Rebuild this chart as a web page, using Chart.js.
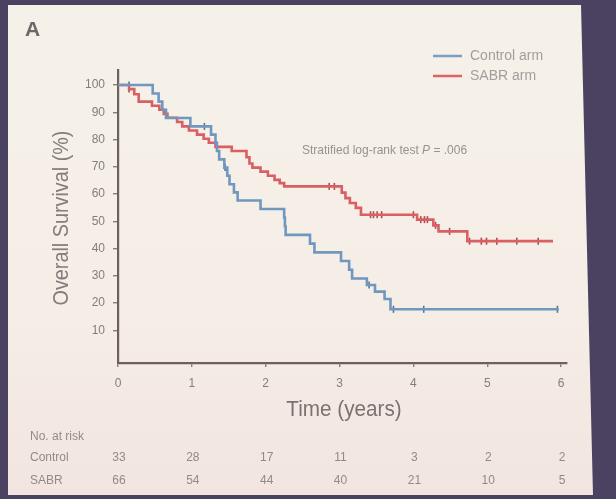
<!DOCTYPE html>
<html>
<head>
<meta charset="utf-8">
<title>Overall survival</title>
<script src="https://cdn.jsdelivr.net/npm/chart.js@4/dist/chart.umd.min.js"></script>
<style>
    html, body { margin: 0; padding: 0; background: #4b4261; }
    #wrap { width: 616px; height: 499px; position: relative; }
    #kmChart { filter: blur(0.35px); }
</style>
</head>
<body>
<div id="wrap"><canvas id="kmChart" width="616" height="499"></canvas></div>
<script>
// ── Data ──────────────────────────────────────────────────────
const years = [0, 1, 2, 3, 4, 5, 6];
const yTicks = [10, 20, 30, 40, 50, 60, 70, 80, 90, 100];

const controlTimes = [0, 0.47, 0.55, 0.60, 0.65, 0.98, 1.26, 1.32, 1.34, 1.37, 1.44, 1.48, 1.51, 1.57, 1.62,
    1.93, 2.25, 2.26, 2.27, 2.60, 2.66, 3.02, 3.13, 3.17, 3.37, 3.48, 3.61, 3.69, 5.97];
const controlSurv = [100, 96.9, 93.9, 90.9, 87.9, 84.8, 81.8, 78.8, 75.8, 72.7, 69.7, 66.7, 63.6, 60.6, 57.6,
    54.5, 51.4, 48.2, 45.0, 41.8, 38.6, 35.4, 32.2, 29.0, 26.6, 24.2, 21.5, 17.7, 17.7];
const controlCensor = [0.15, 1.17, 1.45, 3.40, 3.73, 4.14, 5.95];

const sabrTimes = [0, 0.15, 0.22, 0.28, 0.46, 0.56, 0.62, 0.67, 0.80, 0.87, 0.96, 1.07, 1.16, 1.23, 1.32,
    1.54, 1.74, 1.78, 1.82, 1.93, 2.03, 2.12, 2.19, 2.25, 3.03, 3.08, 3.14, 3.22, 3.29, 4.05, 4.27, 4.34, 4.73, 5.89];
const sabrSurv = [100, 98.5, 96.6, 93.9, 92.4, 90.9, 89.4, 88.0, 86.4, 84.8, 83.3, 81.8, 80.3, 78.8, 77.3,
    75.8, 73.5, 71.2, 69.7, 68.2, 66.7, 65.2, 64.0, 62.8, 60.5, 58.5, 56.7, 54.9, 52.4, 50.6, 48.5, 46.3, 42.7, 42.7];
const sabrCensor = [0.15, 2.86, 2.93, 3.42, 3.46, 3.51, 3.57, 4.00, 4.10, 4.15, 4.19, 4.30, 4.49,
    4.76, 4.92, 4.99, 5.13, 5.40, 5.69];

const atRiskControl = [33, 28, 17, 11, 3, 2, 2];
const atRiskSabr = [66, 54, 44, 40, 21, 10, 5];

// ── Helpers ───────────────────────────────────────────────────
const FONT = "'Liberation Sans', Arial, sans-serif";

// survival value of a step curve at time t
function survAt(times, surv, t) {
    let s = surv[0];
    for (let i = 0; i < times.length; i++) if (times[i] <= t) s = surv[i];
    return s;
}
const toPts = (times, surv) => times.map((t, i) => ({ x: t, y: surv[i] }));
const censorPts = (times, surv, marks) => marks.map(t => ({ x: t, y: survAt(times, surv, t) }));

// condensed text: draw a larger font squeezed horizontally
function narrowText(c, text, x, y, size, squeeze, angle) {
    c.save();
    c.translate(x, y);
    if (angle) c.rotate(angle);
    c.scale(squeeze, 1);
    c.font = size + 'px ' + FONT;
    c.textAlign = 'center';
    c.textBaseline = 'middle';
    c.fillText(text, 0, 0);
    c.restore();
}

// ── Slide backdrop (photo of a projected slide) ───────────────
const backdrop = {
    id: 'backdrop',
    beforeDraw(chart) {
        const c = chart.ctx;
        c.save();
        c.fillStyle = '#4b4261';
        c.fillRect(0, 0, chart.width, chart.height);
        const g = c.createLinearGradient(0, 0, 0, chart.height);
        g.addColorStop(0, '#f5f1e9');
        g.addColorStop(0.6, '#f5eee7');
        g.addColorStop(1, '#f2e5df');
        c.fillStyle = g;
        c.beginPath();
        c.moveTo(8, 5);
        c.lineTo(581, 5);
        c.lineTo(593, 495);
        c.lineTo(8, 495);
        c.closePath();
        c.fill();
        c.restore();
    }
};

// ── Texts around the plot ─────────────────────────────────────
const annotations = {
    id: 'annotations',
    afterDraw(chart) {
        const c = chart.ctx;
        const xs = chart.scales.x;
        c.save();

        // panel letter
        c.fillStyle = '#6f6767';
        c.font = 'bold 21px ' + FONT;
        c.textBaseline = 'middle';
        c.fillText('A', 25, 30);

        // legend
        c.lineWidth = 2.5;
        c.strokeStyle = '#7a9fc4';
        c.beginPath(); c.moveTo(433, 56); c.lineTo(462, 56); c.stroke();
        c.strokeStyle = '#dc6466';
        c.beginPath(); c.moveTo(433, 76); c.lineTo(462, 76); c.stroke();
        c.fillStyle = '#a59d9d';
        c.font = '14px ' + FONT;
        c.fillText('Control arm', 470, 56);
        c.fillText('SABR arm', 470, 76);

        // test statistic
        c.fillStyle = '#9a9191';
        c.font = '12px ' + FONT;
        let tx = 302;
        const s1 = 'Stratified log-rank test ';
        c.fillText(s1, tx, 151);
        tx += c.measureText(s1).width;
        c.font = 'italic 12px ' + FONT;
        c.fillText('P', tx, 151);
        tx += c.measureText('P').width;
        c.font = '12px ' + FONT;
        c.fillText(' = .006', tx, 151);

        // axis titles
        c.fillStyle = '#7b7373';
        narrowText(c, 'Time (years)', 344, 410, 22, 0.94, 0);
        c.fillStyle = '#857c7c';
        narrowText(c, 'Overall Survival (%)', 62, 218, 22, 0.9, -Math.PI / 2);

        // number at risk table
        c.fillStyle = '#928a8a';
        c.font = '12px ' + FONT;
        c.textAlign = 'left';
        c.fillText('No. at risk', 30, 437);
        c.fillText('Control', 30, 458);
        c.fillText('SABR', 30, 481);
        c.textAlign = 'center';
        years.forEach((yr, i) => {
            const px = xs.getPixelForValue(yr) + 1;
            c.fillText(String(atRiskControl[i]), px, 458);
            c.fillText(String(atRiskSabr[i]), px, 481);
        });
        c.restore();
    }
};

// ── Chart ─────────────────────────────────────────────────────
new Chart(document.getElementById('kmChart').getContext('2d'), {
    type: 'line',
    data: {
        datasets: [
            {
                label: 'Control arm',
                data: toPts(controlTimes, controlSurv),
                borderColor: '#7097bf',
                borderWidth: 2.6,
                stepped: 'before',
                pointRadius: 0,
                fill: false,
            },
            {
                label: 'SABR arm',
                data: toPts(sabrTimes, sabrSurv),
                borderColor: '#da5f62',
                borderWidth: 2.6,
                stepped: 'before',
                pointRadius: 0,
                fill: false,
            },
            {
                label: 'Control censored',
                data: censorPts(controlTimes, controlSurv, controlCensor),
                showLine: false,
                pointStyle: 'line',
                rotation: 90,
                pointRadius: 3.5,
                pointBorderWidth: 1.6,
                pointBorderColor: '#53739a',
            },
            {
                label: 'SABR censored',
                data: censorPts(sabrTimes, sabrSurv, sabrCensor),
                showLine: false,
                pointStyle: 'line',
                rotation: 90,
                pointRadius: 3.5,
                pointBorderWidth: 1.6,
                pointBorderColor: '#a94a52',
            },
        ],
    },
    options: {
        responsive: false,
        animation: false,
        events: [],
        layout: { padding: { top: 70, right: 49, left: 0, bottom: 0 } },
        plugins: {
            legend: { display: false },
            tooltip: { enabled: false },
        },
        scales: {
            x: {
                type: 'linear',
                min: 0,
                max: 6.08,
                afterBuildTicks: s => { s.ticks = years.map(v => ({ value: v })); },
                afterFit: s => { s.height = 136; },
                border: { display: true, color: '#6f6060', width: 2.2 },
                grid: { drawOnChartArea: false, tickLength: 4, color: '#8a7b7b', lineWidth: 1.4 },
                ticks: { color: '#857d7d', font: { family: FONT, size: 12 }, padding: 9, maxRotation: 0 },
            },
            y: {
                type: 'linear',
                min: -2,
                max: 105.5,
                afterBuildTicks: s => { s.ticks = yTicks.map(v => ({ value: v })); },
                afterFit: s => { s.width = 118; },
                border: { display: true, color: '#6f6060', width: 2.2 },
                grid: { drawOnChartArea: false, tickLength: 5, color: '#8a7b7b', lineWidth: 1.4 },
                ticks: { color: '#857d7d', font: { family: FONT, size: 12 }, padding: 8 },
            },
        },
    },
    plugins: [backdrop, annotations],
});
</script>
</body>
</html>
